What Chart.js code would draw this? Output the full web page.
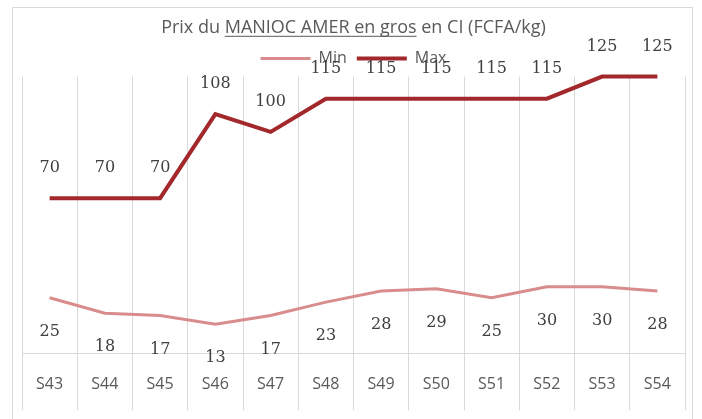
<!DOCTYPE html>
<html>
<head>
<meta charset="utf-8">
<script src="https://cdn.jsdelivr.net/npm/chart.js@4/dist/chart.umd.min.js"></script>
<style>
  html, body { margin: 0; padding: 0; background: #fff; }
</style>
</head>
<body>
<canvas id="chart" width="702" height="419"></canvas>
<script>
const weeks = ['S43', 'S44', 'S45', 'S46', 'S47', 'S48', 'S49', 'S50', 'S51', 'S52', 'S53', 'S54'];
const minPrices = [25, 18, 17, 13, 17, 23, 28, 29, 25, 30, 30, 28];
const maxPrices = [70, 70, 70, 108, 100, 115, 115, 115, 115, 115, 125, 125];
const titleText = 'Prix du MANIOC AMER en gros en CI (FCFA/kg)';
const titleLead = 'Prix du ';
const titleUnderlined = 'MANIOC AMER en gros';

const titleFont = { family: '"Open Sans"', size: 18 };
const gridGrey = '#d9d9d9';

// outer frame like the spreadsheet chart box
const framePlugin = {
  id: 'frame',
  beforeDraw(chart) {
    const ctx = chart.ctx;
    ctx.save();
    ctx.strokeStyle = gridGrey;
    ctx.lineWidth = 1;
    ctx.strokeRect(12.5, 7.5, 680, 430);
    ctx.restore();
  }
};

// underline part of the title
const underlinePlugin = {
  id: 'underline',
  afterDraw(chart) {
    const tb = chart.titleBlock;
    if (!tb) return;
    const ctx = chart.ctx;
    ctx.save();
    ctx.font = titleFont.size + 'px ' + titleFont.family;
    const full = ctx.measureText(titleText).width;
    const cx = (tb.left + tb.right) / 2;
    const x0 = cx - full / 2 + ctx.measureText(titleLead).width;
    const w = ctx.measureText(titleUnderlined).width;
    const y = tb.top + tb.options.padding.top + titleFont.size * 1.2 / 2 + 8.5;
    ctx.strokeStyle = '#595959';
    ctx.lineWidth = 1;
    ctx.beginPath();
    ctx.moveTo(x0, y);
    ctx.lineTo(x0 + w, y);
    ctx.stroke();
    ctx.restore();
  }
};

// value labels above / below the points
const valueLabels = {
  id: 'valueLabels',
  afterDatasetsDraw(chart) {
    const ctx = chart.ctx;
    ctx.save();
    ctx.font = '16px "DejaVu Serif"';
    ctx.fillStyle = '#404040';
    ctx.textAlign = 'center';
    ctx.textBaseline = 'middle';
    chart.data.datasets.forEach((ds, i) => {
      const meta = chart.getDatasetMeta(i);
      meta.data.forEach((pt, j) => {
        ctx.fillText(ds.data[j], pt.x, pt.y + ds.labelOffset);
      });
    });
    ctx.restore();
  }
};

const ctx = document.getElementById('chart').getContext('2d');
new Chart(ctx, {
  type: 'line',
  data: {
    labels: weeks,
    datasets: [{
      label: 'Min',
      data: minPrices,
      borderColor: '#d98c8c',
      backgroundColor: '#d98c8c',
      borderWidth: 3,
      pointRadius: 0,
      tension: 0,
      clip: false,
      labelOffset: 34
    }, {
      label: 'Max',
      data: maxPrices,
      borderColor: '#a3282b',
      backgroundColor: '#a3282b',
      borderWidth: 4,
      pointRadius: 0,
      tension: 0,
      clip: false,
      labelOffset: -30
    }]
  },
  options: {
    responsive: false,
    animation: false,
    layout: { padding: { top: 8, left: 22, right: 17, bottom: 0 } },
    plugins: {
      title: {
        display: true,
        text: titleText,
        color: '#595959',
        font: { family: titleFont.family, size: titleFont.size, weight: 'normal' },
        padding: { top: 9, bottom: 2 }
      },
      legend: {
        display: true,
        labels: {
          usePointStyle: true,
          pointStyle: 'line',
          pointStyleWidth: 50,
          padding: 10,
          color: '#595959',
          font: { family: '"Open Sans"', size: 16 }
        }
      },
      tooltip: { enabled: false }
    },
    scales: {
      x: {
        offset: true,
        grid: {
          offset: true,
          color: gridGrey,
          tickColor: gridGrey,
          drawTicks: true,
          tickLength: 57
        },
        border: { display: true, color: gridGrey },
        ticks: {
          color: '#595959',
          padding: -35,
          font: { family: '"Open Sans"', size: 16 }
        },
        afterFit(scale) { scale.height = 66; }
      },
      y: {
        display: false,
        min: 0,
        max: 125
      }
    }
  },
  plugins: [framePlugin, underlinePlugin, valueLabels]
});
</script>
</body>
</html>
